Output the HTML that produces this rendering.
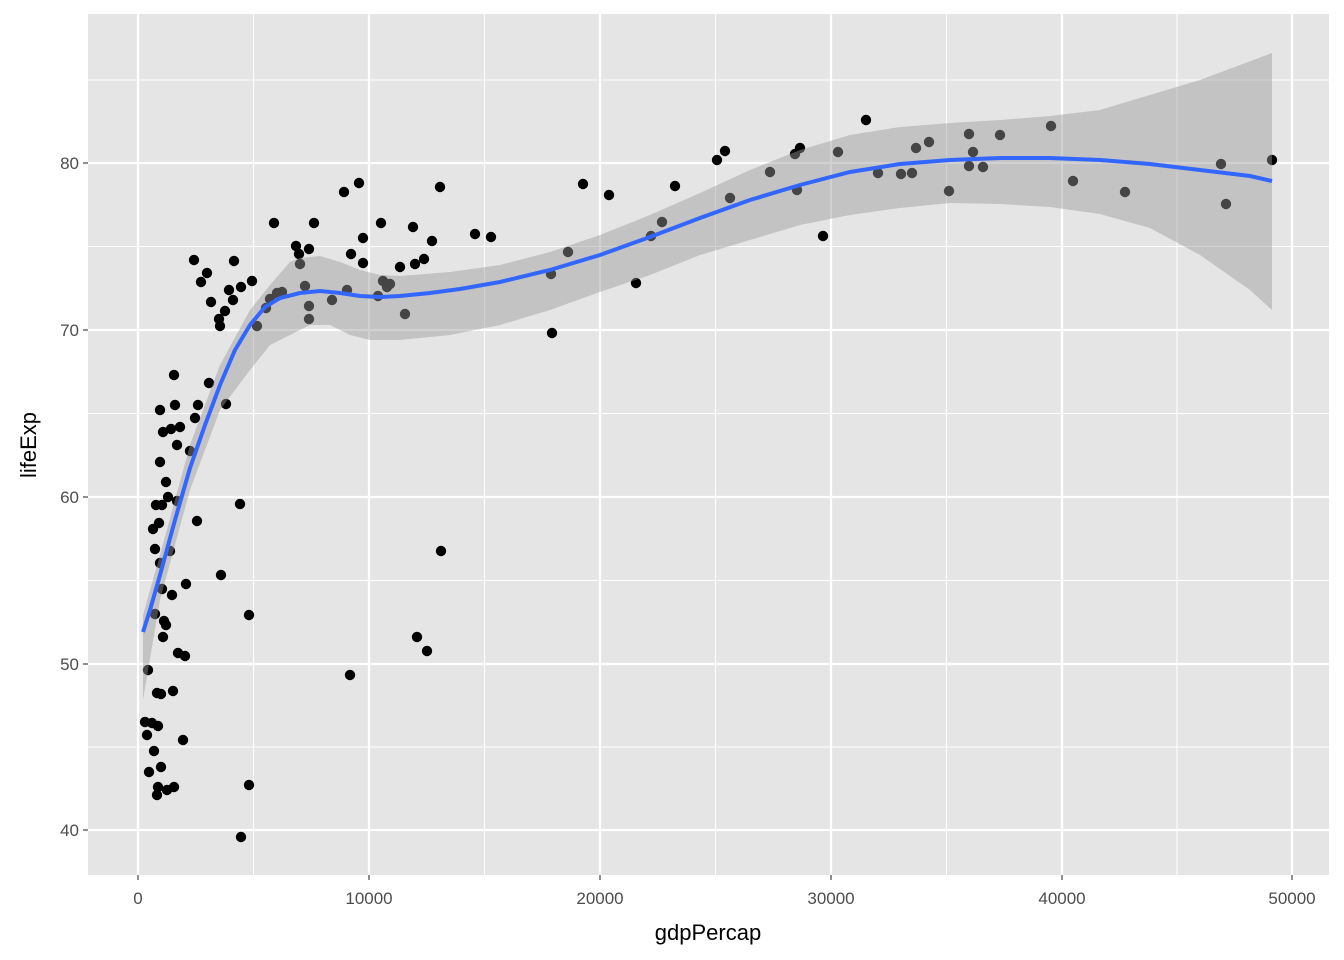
<!DOCTYPE html>
<html><head><meta charset="utf-8"><style>body{margin:0;background:#fff}svg{display:block}</style></head>
<body>
<svg width="1344" height="960" xmlns="http://www.w3.org/2000/svg" font-family="Liberation Sans, sans-serif">
<rect x="88" y="14" width="1241" height="861" fill="#e5e5e5"/>
<g stroke="#fff" stroke-width="1.1">
<line x1="253.5" x2="253.5" y1="14" y2="875"/><line x1="484.5" x2="484.5" y1="14" y2="875"/><line x1="715.5" x2="715.5" y1="14" y2="875"/><line x1="946.5" x2="946.5" y1="14" y2="875"/><line x1="1177" x2="1177" y1="14" y2="875"/>
<line x1="88" x2="1329" y1="80" y2="80"/><line x1="88" x2="1329" y1="246.5" y2="246.5"/><line x1="88" x2="1329" y1="413.5" y2="413.5"/><line x1="88" x2="1329" y1="580.5" y2="580.5"/><line x1="88" x2="1329" y1="747" y2="747"/>
</g>
<g stroke="#fff" stroke-width="2.2">
<line x1="138" x2="138" y1="14" y2="875"/><line x1="369" x2="369" y1="14" y2="875"/><line x1="600" x2="600" y1="14" y2="875"/><line x1="831" x2="831" y1="14" y2="875"/><line x1="1062" x2="1062" y1="14" y2="875"/><line x1="1292" x2="1292" y1="14" y2="875"/>
<line x1="88" x2="1329" y1="163" y2="163"/><line x1="88" x2="1329" y1="330" y2="330"/><line x1="88" x2="1329" y1="497" y2="497"/><line x1="88" x2="1329" y1="664" y2="664"/><line x1="88" x2="1329" y1="830" y2="830"/>
</g>
<g fill="#000" id="pts"></g>
<path fill="#999" fill-opacity="0.45" d="M143,615 L160,555 L190,445 L220,365 L250,310 L270,285 L290,262 L300,258 L320,256 L340,262 L360,270 L380,275 L400,276 L450,272 L500,265 L550,252 L600,235 L650,215 L700,193 L750,170 L800,150 L850,135 L900,127 L950,123 L1000,120 L1050,116 L1100,110 L1150,95 L1200,80 L1272,53 L1272,310 L1250,290 L1200,255 L1150,228 L1100,214 L1050,207 L1000,204 L950,203 L900,208 L850,215 L800,225 L750,240 L700,255 L650,275 L600,292 L550,310 L500,325 L450,335 L400,340 L370,340 L350,335 L330,325 L310,325 L290,335 L270,345 L250,370 L220,410 L190,490 L160,600 L143,700 Z"/>
<polyline fill="none" stroke="#3366ff" stroke-width="4" points="143,632 150,610 160,575 175,520 190,468 205,425 220,385 235,350 250,325 265,307 280,298 300,293 320,291 340,293 360,296 380,297 400,296 430,293 460,289 500,282 550,270 600,255 650,237 700,218 750,200 800,185 850,172 900,164 950,160 1000,158 1050,158 1100,160 1150,164 1200,170 1250,176 1272,181"/>
<g fill="#4d4d4d" font-size="17" text-anchor="middle">
<text x="138" y="904">0</text><text x="369" y="904">10000</text><text x="600" y="904">20000</text><text x="831" y="904">30000</text><text x="1062" y="904">40000</text><text x="1292" y="904">50000</text>
</g>
<g fill="#4d4d4d" font-size="17" text-anchor="end">
<text x="79" y="169">80</text><text x="79" y="336">70</text><text x="79" y="503">60</text><text x="79" y="670">50</text><text x="79" y="836">40</text>
</g>
<g stroke="#333" stroke-width="1.1">
<line x1="138" x2="138" y1="875" y2="880"/><line x1="369" x2="369" y1="875" y2="880"/><line x1="600" x2="600" y1="875" y2="880"/><line x1="831" x2="831" y1="875" y2="880"/><line x1="1062" x2="1062" y1="875" y2="880"/><line x1="1292" x2="1292" y1="875" y2="880"/>
<line x1="83" x2="88" y1="163" y2="163"/><line x1="83" x2="88" y1="330" y2="330"/><line x1="83" x2="88" y1="497" y2="497"/><line x1="83" x2="88" y1="664" y2="664"/><line x1="83" x2="88" y1="830" y2="830"/>
</g>
<text x="708" y="940" font-size="22" text-anchor="middle">gdpPercap</text>
<text transform="translate(36,445) rotate(-90)" font-size="22" text-anchor="middle">lifeExp</text>
</svg>
<script>
var p=[[145,722],[148,670],[147,735],[149,772],[152,723],[154,751],[155,614],[155,549],[153,529],[156,505],[157,693],[157,795],[158,787],[158,726],[159,523],[160,462],[160,410],[160,563],[161,694],[161,767],[162,589],[162,505],[163,637],[163,432],[164,621],[166,625],[166,482],[167,790],[168,497],[170,551],[171,429],[172,595],[173,691],[174,787],[174,375],[175,405],[177,445],[177,501],[178,653],[180,427],[183,740],[185,656],[186,584],[190,451],[194,260],[195,418],[197,521],[198,405],[201,282],[207,273],[209,383],[211,302],[219,319],[220,326],[221,575],[225,311],[226,404],[229,290],[233,300],[234,261],[241,837],[240,504],[241,287],[249,785],[249,615],[252,281],[257,326],[266,308],[270,299],[274,223],[277,293],[282,292],[296,246],[299,254],[300,264],[305,286],[309,306],[309,319],[309,249],[314,223],[332,300],[344,192],[347,290],[350,675],[351,254],[359,183],[363,263],[363,238],[378,296],[381,223],[383,281],[387,287],[390,284],[400,267],[405,314],[413,227],[415,264],[417,637],[424,259],[427,651],[432,241],[440,187],[441,551],[475,234],[491,237],[551,274],[552,333],[568,252],[583,184],[609,195],[636,283],[651,236],[662,222],[675,186],[717,160],[725,151],[730,198],[770,172],[795,154],[797,190],[800,148],[823,236],[838,152],[866,120],[878,173],[901,174],[912,173],[916,148],[929,142],[949,191],[969,134],[969,166],[973,152],[983,167],[1000,135],[1051,126],[1073,181],[1125,192],[1221,164],[1226,204],[1272,160]];
var g=document.getElementById('pts'),s='';
p.forEach(function(a){s+='<circle cx="'+a[0]+'" cy="'+a[1]+'" r="5.2"/>';});
g.innerHTML=s;
</script>
</body></html>
